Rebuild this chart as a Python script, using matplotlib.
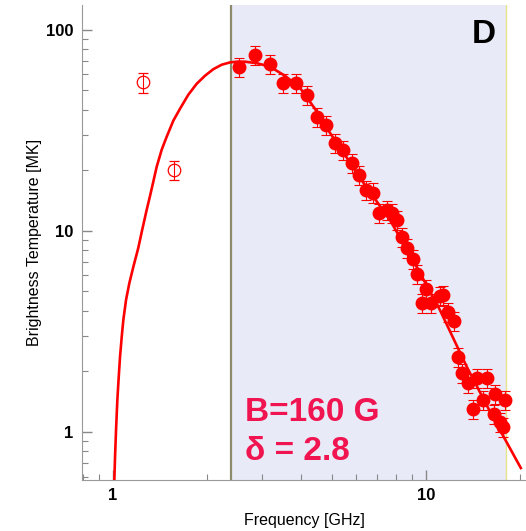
import matplotlib.pyplot as plt
from matplotlib.ticker import LogLocator, NullFormatter, FixedLocator, FixedFormatter

plt.rcParams['font.family'] = ['Liberation Sans', 'DejaVu Sans']

# observed spectrum (filled points), GHz / MK
freq = [2.53, 2.84, 3.17, 3.49, 3.84, 4.17, 4.49, 4.79, 5.12, 5.43,
        5.80, 6.11, 6.43, 6.77, 7.08, 7.51, 7.79, 8.08, 8.38, 8.70,
        9.09, 9.36, 10.0, 9.71, 10.37, 11.08, 11.33, 11.76, 12.29, 12.66,
        13.03, 13.62, 14.55, 15.66, 14.13, 15.21, 16.61, 17.88, 16.50, 17.24,
        17.62]
tb = [65.5, 75.1, 67.7, 54.5, 54.5, 47.5, 36.9, 33.7, 27.4, 25.3,
      21.8, 19.0, 16.0, 15.5, 12.3, 12.7, 12.3, 11.3, 9.34, 8.23,
      7.26, 6.11, 5.15, 4.38, 4.38, 4.75, 4.80, 3.95, 3.57, 2.36,
      1.97, 1.75, 1.86, 1.86, 1.30, 1.44, 1.55, 1.44, 1.23, 1.12,
      1.06]

# excluded low-frequency points (open circles)
freq_out = [1.244, 1.563]
tb_out = [54.7, 20.0]

rel_err = 0.11

# model curve
fit_f = [1.0096, 1.0148, 1.0223, 1.0321, 1.0428, 1.0528, 1.0661, 1.0787, 1.1004, 1.1274,
         1.1610, 1.2043, 1.2352, 1.2810, 1.3131, 1.3446, 1.3787, 1.4303, 1.4840, 1.5582,
         1.6370, 1.7403, 1.8511, 1.9676, 2.0912, 2.2254, 2.3651, 2.4897, 2.6407, 2.8845,
         3.1739, 3.5445, 3.9578, 4.4193, 4.9345, 5.5099, 6.1524, 6.8697, 7.6707, 9.0886,
         11.083, 13.521, 16.496, 20.118]
fit_t = [0.577, 0.754, 1.023, 1.443, 1.884, 2.369, 2.979, 3.607, 4.537, 5.494,
         6.622, 8.232, 9.886, 12.72, 14.93, 17.53, 20.82, 25.29, 29.36, 35.27,
         40.46, 47.50, 53.86, 59.03, 63.61, 66.98, 68.77, 69.33, 69.33, 68.13,
         65.45, 59.03, 51.45, 40.46, 30.73, 23.88, 18.35, 14.43, 11.34, 7.17,
         4.05, 2.106, 1.161, 0.662]

band = (2.38, 18.0)

fig = plt.figure(figsize=(5.26, 5.31), dpi=100)
ax = fig.add_axes([0.156, 0.096, 0.844, 0.895])

ax.axvspan(band[0], band[1], color='#e9eaf8', zorder=0, lw=0)
ax.axvline(band[0], color='#8c8c6c', lw=1.6, zorder=1)
ax.axvline(band[1], color='#e6e48c', lw=1.0, zorder=1)

ax.plot(fit_f, fit_t, color='red', lw=1.9, zorder=3, solid_joinstyle='round')

ax.errorbar(freq, tb, yerr=[t * rel_err for t in tb], fmt='o', color='red',
            ms=9, elinewidth=0.8, capsize=3.5, capthick=0.8, zorder=4)
ax.errorbar(freq_out, tb_out, yerr=[t * rel_err for t in tb_out], fmt='o',
            mfc='none', mec='red', color='red', ms=9, mew=0.9,
            elinewidth=0.8, capsize=3.5, capthick=0.8, zorder=4)

ax.set_xscale('log')
ax.set_yscale('log')
ax.set_xlim(0.796, 20.9)
ax.set_ylim(0.577, 133)

ax.xaxis.set_major_locator(FixedLocator([1, 10]))
ax.xaxis.set_major_formatter(FixedFormatter(['1', '10']))
ax.xaxis.set_minor_locator(LogLocator(base=10, subs=range(2, 10)))
ax.xaxis.set_minor_formatter(NullFormatter())
ax.yaxis.set_major_locator(FixedLocator([1, 10, 100]))
ax.yaxis.set_major_formatter(FixedFormatter(['1', '10', '100']))
ax.yaxis.set_minor_locator(LogLocator(base=10, subs=range(2, 10)))
ax.yaxis.set_minor_formatter(NullFormatter())

ax.tick_params(which='both', direction='in', color='#888888')
ax.tick_params(which='major', length=7, width=1, labelsize=12, pad=6)
ax.tick_params(which='minor', length=4, width=0.8)
for lbl in ax.get_xticklabels() + ax.get_yticklabels():
    lbl.set_fontweight('bold')

for side in ['top', 'right']:
    ax.spines[side].set_visible(False)
for side in ['left', 'bottom']:
    ax.spines[side].set_color('#999999')

ax.set_xlabel('Frequency [GHz]', fontsize=11.5, labelpad=7)
ax.set_ylabel('Brightness Temperature [MK]', fontsize=11.5, labelpad=3)

ax.text(0.905, 0.938, 'D', transform=ax.transAxes, fontsize=24,
        fontweight='bold', ha='center', va='center')
ax.text(2.64, 1.13, 'B=160 G', fontsize=24, fontweight='bold',
        color='#f01450', va='baseline')
ax.text(2.64, 0.726, 'δ = 2.8', fontsize=24, fontweight='bold',
        color='#f01450', va='baseline')

plt.savefig('out.png', dpi=100)
